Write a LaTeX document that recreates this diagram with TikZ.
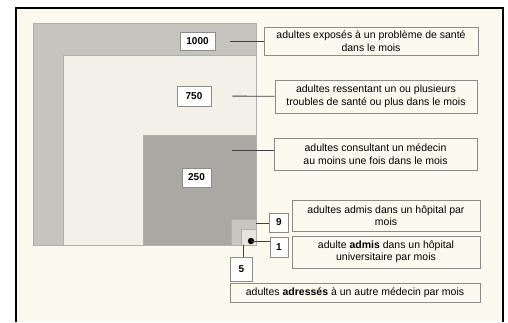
\documentclass[tikz,border=0pt]{standalone}
\usepackage{fontspec}
\setmainfont{Liberation Sans}
\usetikzlibrary{positioning}
\usetikzlibrary{calc}

\definecolor{creme}{HTML}{FCFAEF}
\definecolor{gris1000}{HTML}{C6C4BE}
\definecolor{gris750}{HTML}{F2F0E7}
\definecolor{gris250}{HTML}{AAA8A3}
\definecolor{gris9}{HTML}{C8C6C0}
\definecolor{gris1}{HTML}{E6E4DD}
\definecolor{bordgris}{HTML}{8E8C88}

\tikzset{
  numbox/.style={draw=bordgris, fill=white, thick, inner sep=1pt, font=\fontsize{10}{11}\selectfont\bfseries},
  txtbox/.style={draw=bordgris, fill=creme, thick, align=center, inner sep=1pt, font=\fontsize{10.5}{12.5}\selectfont},
  lien/.style={draw=black!75, thick}
}

\begin{document}
\begin{tikzpicture}[x=1pt, y=-1pt]

 \useasboundingbox (0,0) rectangle (508,322);

 %frame
 \fill[creme] (16,8) rectangle (503,322);
 \draw[line width=2pt] (16,322) -- (16,8) -- (503,8) -- (503,322);

 %squares
 \foreach \x/\y/\col in {33/23/gris1000, 63/55/gris750, 143/135/gris250, 231/219/gris9, 241/229/gris1} {
         \draw[fill=\col, draw=bordgris!70] (\x,\y) rectangle (256,245);
 }
 \fill[black] (251,241) circle (3.2pt);

 %numbers
 \node[numbox, minimum width=35pt, minimum height=18pt] (n1000) at (197.5,41) {1000};
 \node[numbox, minimum width=34pt, minimum height=20pt] (n750) at (194,96) {750};
 \node[numbox, minimum width=29pt, minimum height=19pt] (n250) at (196.5,177.5) {250};
 \node[numbox, minimum width=19pt, minimum height=19pt] (n9) at (279,222.5) {9};
 \node[numbox, minimum width=18pt, minimum height=20pt] (n1) at (279,247) {1};
 \node[numbox, minimum width=22pt, minimum height=24pt] (n5) at (241.5,269.5) {5};

 %texts
 \node[txtbox, minimum width=214pt, minimum height=28pt] (t1000) at (371,41)
     {adultes exposés à un problème de santé\\dans le mois};
 \node[txtbox, minimum width=202pt, minimum height=33pt] (t750) at (376,96.5)
     {adultes ressentant un ou plusieurs\\troubles de santé ou plus dans le mois};
 \node[txtbox, minimum width=203pt, minimum height=32pt] (t250) at (375.5,154)
     {adultes consultant un médecin\\au moins une fois dans le mois};
 \node[txtbox, minimum width=188pt, minimum height=31pt] (t9) at (386,215.5)
     {adultes admis dans un hôpital par\\mois};
 \node[txtbox, minimum width=188pt, minimum height=32pt] (t1) at (386,252)
     {adulte \textbf{admis} dans un hôpital\\universitaire par mois};
 \node[txtbox, minimum width=250pt, minimum height=19pt] (t5) at (355,292.5)
     {adultes \textbf{adressés} à un autre médecin par mois};

 %links
 \coordinate (c250) at (232,150);
 \coordinate (c9) at (256,223);
 \coordinate (c1) at (251,241);
 \coordinate (c5) at (243,245);

 \draw[lien, shorten <=15pt] (n1000) -- (t1000);
 \draw[lien, shorten <=21pt] (n750) -- (t750);
 \draw[lien] (c250) -- (t250.west |- c250);
 \draw[lien] (c9) -- (n9.west |- c9);
 \draw[lien] (c1) -- (n1.west |- c1);
 \draw[lien] (c5) -- (n5.north -| c5);

\end{tikzpicture}
\end{document}
